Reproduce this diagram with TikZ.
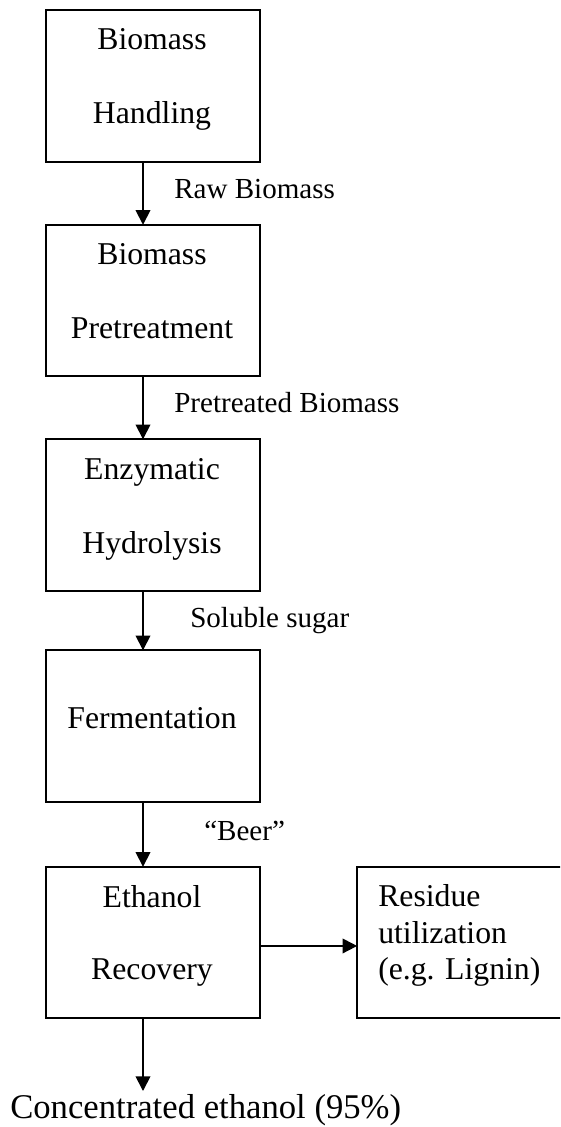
\documentclass[tikz,border=0pt]{standalone}
\usepackage{fontspec}
\setmainfont{Liberation Serif}
\usetikzlibrary{arrows.meta}
\begin{document}
\begin{tikzpicture}[x=0.75pt,y=-0.75pt,
  box/.style={draw, line width=1.4pt, rectangle, inner sep=0pt, outer sep=0pt,
    minimum width=160.5pt, minimum height=113.6pt},
  boxtxt/.style={inner sep=0pt, anchor=base, font=\fontsize{23.8}{28}\selectfont},
  sidetxt/.style={inner sep=0pt, anchor=base west, font=\fontsize{23.8}{28}\selectfont},
  lbl/.style={inner sep=0pt, anchor=base west, font=\fontsize{21.8}{26}\selectfont},
  outtxt/.style={inner sep=0pt, anchor=base west, font=\fontsize{26}{30}\selectfont},
  arr/.style={line width=1.3pt, -{Triangle[length=11pt,width=11pt]}}]
\useasboundingbox (0,0) rectangle (560,1127);
\clip (0,0) rectangle (560,1127);

% boxes
\node[box] (b1) at (153,86) {};
\node[box] (b2) at (153,300.5) {};
\node[box] (b3) at (153,515) {};
\node[box] (b4) at (153,726) {};
\node[box] (b5) at (153,942.5) {};
\node[box, minimum width=167pt] (b6) at (468.5,942.5) {};

% box texts
\node[boxtxt] (t1a) at (152,50) {Biomass};
\node[boxtxt] (t1b) at (152,124) {Handling};
\node[boxtxt] (t2a) at (152,264) {Biomass};
\node[boxtxt] (t2b) at (152,338) {Pretreatment};
\node[boxtxt] (t3a) at (152,479) {Enzymatic};
\node[boxtxt] (t3b) at (152,553) {Hydrolysis};
\node[boxtxt] (t4) at (152,728) {Fermentation};
\node[boxtxt] (t5a) at (152,907) {Ethanol};
\node[boxtxt] (t5b) at (152,979) {Recovery};
\node[sidetxt] (t6a) at (378,906) {Residue};
\node[sidetxt] (t6b) at (378,943) {utilization};
\node[sidetxt] (t6c) at (378,979) {(e.g. Lignin)};

% labels
\node[lbl] (l1) at (174,198) {Raw Biomass};
\node[lbl] (l2) at (174,412) {Pretreated Biomass};
\node[lbl] (l3) at (190,627) {Soluble sugar};
\node[lbl] (l4) at (204,840) {``Beer''};
\node[outtxt] (out) at (10,1118) {Concentrated ethanol (95\%)};

% connectors
\draw[arr] ([xshift=-7.5pt]b1.south) -- ([xshift=-7.5pt]b2.north);
\draw[arr] ([xshift=-7.5pt]b2.south) -- ([xshift=-7.5pt]b3.north);
\draw[arr] ([xshift=-7.5pt]b3.south) -- ([xshift=-7.5pt]b4.north);
\draw[arr] ([xshift=-7.5pt]b4.south) -- ([xshift=-7.5pt]b5.north);
\draw[arr] ([yshift=-2.6pt]b5.east) -- ([yshift=-2.6pt]b6.west);
\coordinate (outtip) at (143,1091);
\draw[arr] ([xshift=-7.5pt]b5.south) -- (outtip);
\end{tikzpicture}
\end{document}
